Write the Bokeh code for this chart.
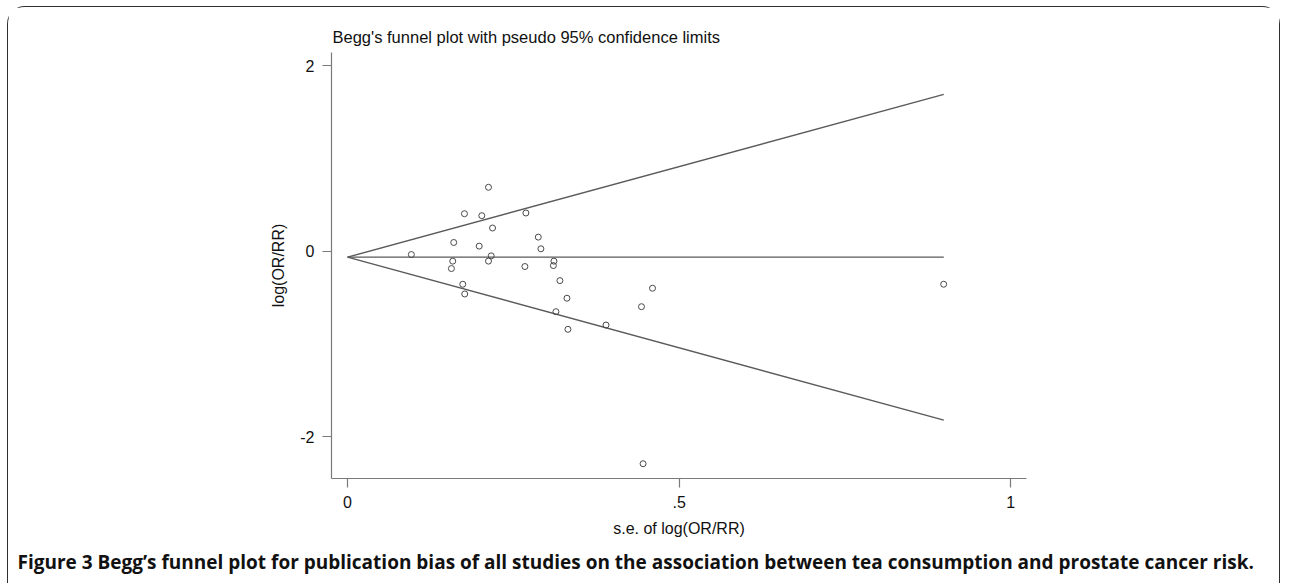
from bokeh.plotting import figure
from bokeh.models import Range1d, FixedTicker, Title, LinearAxis
from bokeh.embed import file_html
from bokeh.resources import INLINE

# ---- data ----
se = [0.2125, 0.1763, 0.2024, 0.2689, 0.2186, 0.1601, 0.2876, 0.1985, 0.2915,
      0.0962, 0.2166, 0.1586, 0.2125, 0.3112, 0.1566, 0.2674, 0.3103, 0.3202,
      0.1737, 0.1767, 0.3308, 0.3142, 0.3897, 0.3323, 0.4432, 0.4598, 0.8988,
      0.4456]
log_or = [0.688, 0.403, 0.382, 0.411, 0.249, 0.093, 0.151, 0.054, 0.025,
          -0.037, -0.051, -0.108, -0.108, -0.108, -0.188, -0.166, -0.156, -0.318,
          -0.357, -0.462, -0.508, -0.653, -0.797, -0.843, -0.599, -0.400, -0.357,
          -2.292]

funnel_se = [0.0, 0.899]
funnel_upper = [-0.065, 1.690]
funnel_lower = [-0.065, -1.822]
funnel_center = [-0.065, -0.065]

x_ticks = [0, 0.5, 1]
x_tick_labels = {0: "0", 0.5: ".5", 1: "1"}
y_ticks = [-2, 0, 2]
y_tick_labels = {-2: "-2", 0: "0", 2: "2"}

title_text = "Begg's funnel plot with pseudo 95% confidence limits"
x_title = "s.e. of log(OR/RR)"
y_title = "log(OR/RR)"
caption = ("Figure 3 Begg\u2019s funnel plot for publication bias of all studies on the "
           "association between tea consumption and prostate cancer risk.")

# canvas origin sits at page (8.5, 7.5) because of margin + border
OX, OY = 8.5, 7.5
W, H = 1273, 577
FL, FR, FT, FB = 332 - OX, 1026 - OX, 53 - OY, 478 - OY

x0, x1 = -0.0242, 1.0237
y0, y1 = -2.451, 2.141

p = figure(width=W, height=H, output_backend="svg", toolbar_location=None,
           x_range=Range1d(x0, x1), y_range=Range1d(y0, y1),
           min_border_left=int(FL), min_border_right=int(W - FR),
           min_border_top=int(FT), min_border_bottom=int(H - FB),
           x_axis_location=None, y_axis_location=None)
p.outline_line_color = None
p.grid.visible = False
p.background_fill_color = "white"
p.border_fill_color = "white"
p.styles = {"border": "1.5px solid #2e2e2e", "border-bottom": "none",
            "border-radius": "18px 18px 0 0", "margin-left": "7px", "margin-top": "6px"}

xa = LinearAxis(ticker=FixedTicker(ticks=x_ticks), axis_label=x_title)
ya = LinearAxis(ticker=FixedTicker(ticks=y_ticks), axis_label=y_title)
for ax, labels in ((xa, x_tick_labels), (ya, y_tick_labels)):
    ax.major_label_overrides = labels
    ax.major_tick_in = 0
    ax.major_tick_out = 9
    ax.minor_tick_in = 0
    ax.minor_tick_out = 0
    ax.axis_line_color = "#7a7a7a"
    ax.major_tick_line_color = "#7a7a7a"
    ax.axis_line_width = 1.2
    ax.major_tick_line_width = 1.2
    ax.major_label_text_font = "Liberation Sans"
    ax.major_label_text_font_size = "16px"
    ax.major_label_text_color = "#111111"
    ax.axis_label_text_font = "Liberation Sans"
    ax.axis_label_text_font_size = "16px"
    ax.axis_label_text_font_style = "normal"
    ax.axis_label_text_color = "#111111"
xa.major_label_standoff = 8
xa.axis_label_standoff = 9
ya.major_label_standoff = 8
ya.axis_label_standoff = 10
ya.major_label_orientation = "horizontal"
p.add_layout(xa, "below")
p.add_layout(ya, "left")

# funnel lines
p.line(funnel_se, funnel_upper, line_color="#5a5a5a", line_width=1.4)
p.line(funnel_se, funnel_lower, line_color="#5a5a5a", line_width=1.4)
p.line(funnel_se, funnel_center, line_color="#5a5a5a", line_width=1.4)

# studies
p.scatter(se, log_or, marker="circle", size=6, fill_color=None,
          line_color="#4a4a4a", line_width=1)

p.add_layout(Title(text=title_text, align="left", offset=1, standoff=13,
                   text_font="Liberation Sans", text_font_size="16.5px",
                   text_font_style="normal", text_color="#111111"), "above")

p.add_layout(Title(text=caption, align="left", offset=18 - 332, standoff=14,
                   text_font="Open Sans", text_font_size="19px",
                   text_font_style="bold", text_color="#111111"), "below")

open("out.html", "w").write(file_html(p, INLINE))
